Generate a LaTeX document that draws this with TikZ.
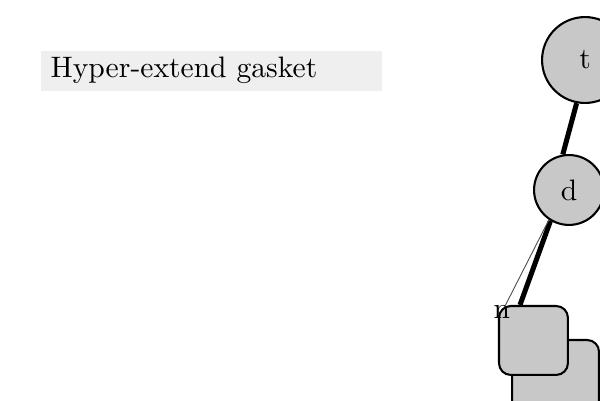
\documentclass[tikz,border=0pt]{standalone}
\definecolor{nodegray}{RGB}{200,200,200}
\definecolor{titlegray}{RGB}{239,239,239}
\tikzset{
  roundnode/.style={circle,draw,line width=0.7pt,fill=nodegray,inner sep=0pt},
  boxnode/.style={rectangle,rounded corners=4pt,draw,line width=0.7pt,fill=nodegray,inner sep=0pt},
  titlebox/.style={fill=titlegray,inner xsep=3.4pt,inner ysep=0pt,text width=108.7pt,minimum height=0.475cm,align=left},
  edge/.style={line width=1.7pt},
  thinedge/.style={line width=0.3pt,black!70}
}
\begin{document}
\begin{tikzpicture}
\useasboundingbox (0,0) rectangle (7.125,4.75);
\clip (0,0) rectangle (7.125,4.75);
\node[titlebox,anchor=north west] (title) at (0.475,4.156) {Hyper-extend gasket};
% the tree
\node[roundnode,minimum size=1.02cm] (t) at (6.947,4.0375) {t};
\node[roundnode,minimum size=0.83cm] (d) at (6.757,2.494) {d};
\node[boxnode,minimum size=1.033cm] (m) at (6.597,0.196) {};
\node[boxnode,minimum size=0.819cm] (n) at (6.335,0.707) {};
\node[inner sep=0pt] (nlabel) at ([xshift=1.3pt,yshift=-2.5pt]n.north west) {n};
\draw[edge] (t.259) -- (d.100);
\draw[edge] (d.239) -- ([xshift=-0.16cm]n.north);
\draw[thinedge] (d.236) -- (nlabel);
\end{tikzpicture}
\end{document}
